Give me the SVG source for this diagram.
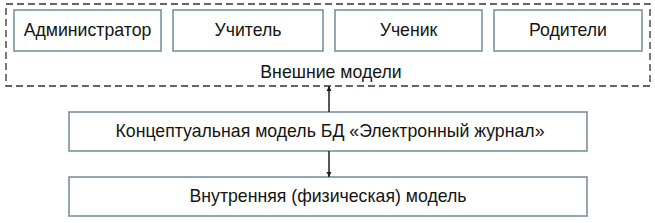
<svg xmlns="http://www.w3.org/2000/svg" width="655" height="223" viewBox="0 0 655 223">
<style>
.box{fill:#fff;stroke:#6d8c9c;stroke-width:1.5}
.t{font-family:"Liberation Sans",Arial,sans-serif;font-size:17.7px;fill:#141414;text-anchor:middle}
.dash{fill:none;stroke:#333;stroke-width:1.3;stroke-dasharray:7 4}
.ln{stroke:#1e1e1e;stroke-width:1.5;fill:none}
</style>
<defs>
<marker id="ah" viewBox="0 0 10 10" refX="10" refY="5" markerWidth="5" markerHeight="9" orient="auto" markerUnits="userSpaceOnUse">
<path d="M0,0 L10,5 L0,10 Z" fill="#1e1e1e"/>
</marker>
</defs>
<rect width="655" height="223" fill="#fff"/>
<g id="external">
<rect class="dash" x="6" y="4" width="644" height="82"/>
<text class="t" x="331" y="78">Внешние модели</text>
</g>
<g id="admin">
<rect class="box" x="14" y="10" width="147" height="41"/>
<text class="t" x="87.5" y="36">Администратор</text>
</g>
<g id="teacher">
<rect class="box" x="173" y="10" width="150" height="41"/>
<text class="t" x="248" y="36">Учитель</text>
</g>
<g id="student">
<rect class="box" x="335" y="10" width="147" height="41"/>
<text class="t" x="408.5" y="36">Ученик</text>
</g>
<g id="parents">
<rect class="box" x="494" y="10" width="148" height="41"/>
<text class="t" x="568" y="36">Родители</text>
</g>
<g id="conceptual">
<rect class="box" x="69" y="112" width="518" height="39"/>
<text class="t" x="330" y="137">Концептуальная модель БД «Электронный журнал»</text>
</g>
<g id="internal">
<rect class="box" x="69" y="177" width="518" height="39"/>
<text class="t" x="328" y="202">Внутренняя (физическая) модель</text>
</g>
<g id="connectors">
<line class="ln" x1="329" y1="112" x2="329" y2="86" marker-end="url(#ah)"/>
<line class="ln" x1="329" y1="151" x2="329" y2="177" marker-end="url(#ah)"/>
</g>
</svg>
